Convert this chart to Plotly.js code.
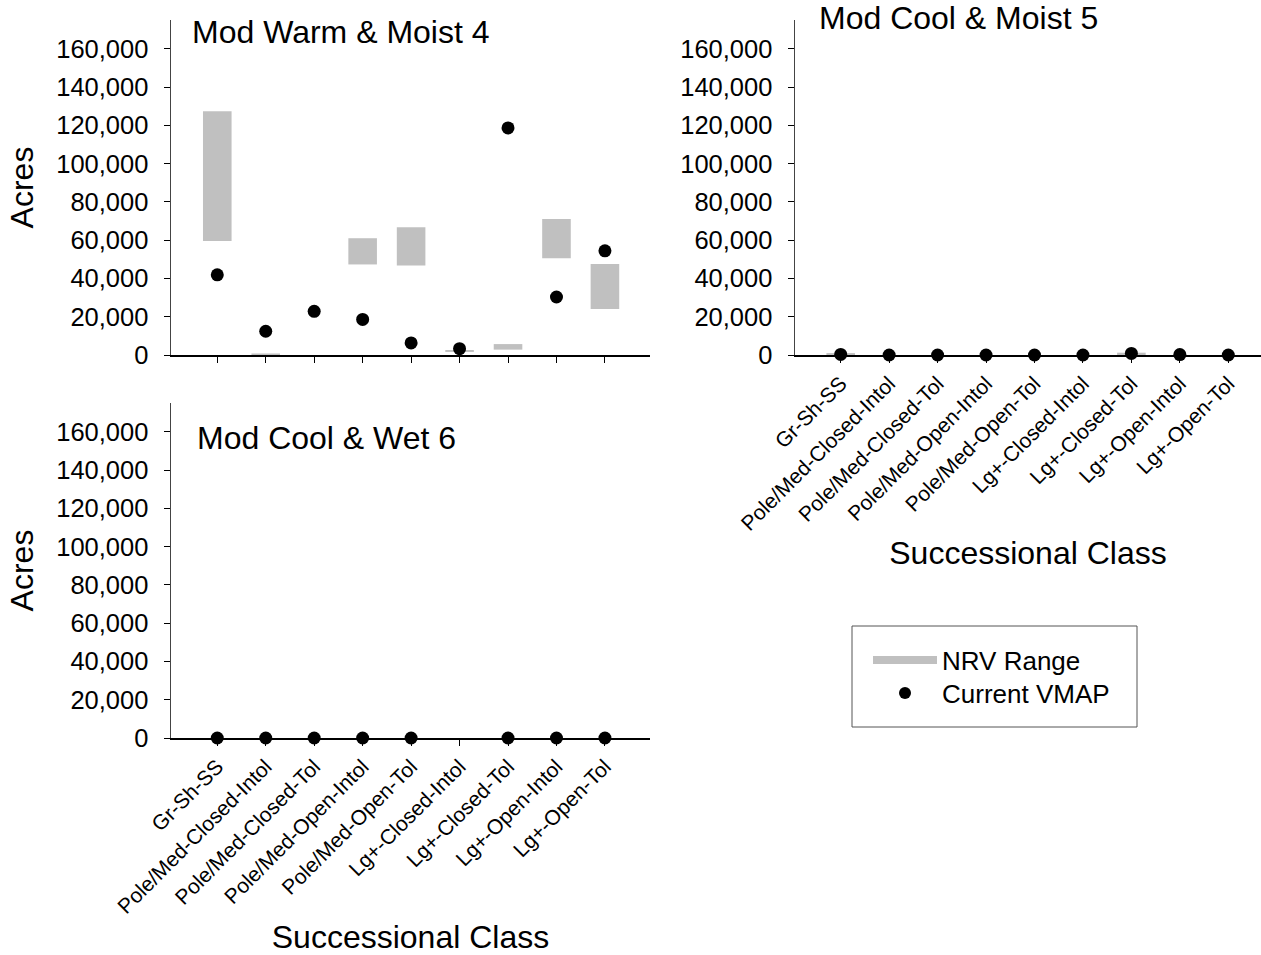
<!DOCTYPE html>
<html><head><meta charset="utf-8">
<script src="https://cdn.plot.ly/plotly-3.0.1.min.js"></script>
<style>html,body{margin:0;padding:0;background:#fff}</style>
</head><body><div id="chart" style="width:1261px;height:955px"></div>
<script>
// ---- data ----
const classes = ['Gr-Sh-SS','Pole/Med-Closed-Intol','Pole/Med-Closed-Tol','Pole/Med-Open-Intol','Pole/Med-Open-Tol','Lg+-Closed-Intol','Lg+-Closed-Tol','Lg+-Open-Intol','Lg+-Open-Tol'];
const panelTitles = ['Mod Warm & Moist 4','Mod Cool & Moist 5','Mod Cool & Wet 6'];
const seriesNames = ['NRV Range','Current VMAP'];
// Mod Warm & Moist 4
const nrvLow4  = [59500, 0,   0, 47300, 46800, 1600, 2800, 50600, 24000];
const nrvHigh4 = [127300, 800, 0, 61000, 66800, 2600, 5700, 71000, 47500];
const vmap4    = [41900, 12400, 22800, 18600, 6300, 3300, 118600, 30300, 54400];
// Mod Cool & Moist 5
const nrvLow5  = [0, 0, 0, 0, 0, 0, 0, 0, 0];
const nrvHigh5 = [1000, 0, 0, 0, 0, 0, 1200, 0, 0];
const vmap5    = [300, 0, 0, 0, 0, 0, 800, 200, 0];
// Mod Cool & Wet 6
const nrvLow6  = [0, 0, 0, 0, 0, 0, 0, 0, 0];
const nrvHigh6 = [0, 0, 0, 0, 0, 0, 0, 0, 0];
const vmap6    = [0, 0, 0, 0, 0, null, 0, 0, 0];

const FONT = 'Liberation Sans, Arial, sans-serif';
const GREY = '#c0c0c0';

function panel(low, high, vmap, xa, ya) {
  return [
    {type:'bar', x:classes, base:low, y:high.map((h,i)=>h-low[i]), xaxis:xa, yaxis:ya,
     width:0.59, marker:{color:GREY, line:{width:0}}, name:seriesNames[0], showlegend:false, hoverinfo:'skip'},
    {type:'scatter', mode:'markers', x:classes, y:vmap, xaxis:xa, yaxis:ya, cliponaxis:false,
     marker:{color:'#000', size:13}, name:seriesNames[1], showlegend:false}
  ];
}

const data = [
  ...panel(nrvLow4, nrvHigh4, vmap4, 'x', 'y'),
  ...panel(nrvLow5, nrvHigh5, vmap5, 'x2', 'y2'),
  ...panel(nrvLow6, nrvHigh6, vmap6, 'x3', 'y3'),
  // legend-only entries (no marks of their own)
  {type:'scatter', mode:'lines', x:[null], y:[null], xaxis:'x', yaxis:'y', name:seriesNames[0], line:{color:GREY, width:8}, showlegend:true, legend:'legend'},
  {type:'scatter', mode:'markers', x:[null], y:[null], xaxis:'x', yaxis:'y', name:seriesNames[1], marker:{color:'#000', size:12}, showlegend:true, legend:'legend2'}
];

const W = 1261, H = 955;
const px = v => v / W, py = v => 1 - v / H;

function xAxis(domain, range, anchor, showLabels, title, standoff) {
  return {
    type:'category', domain:domain, range:range, anchor:anchor, showgrid:false, zeroline:false,
    showline:true, linecolor:'#000', linewidth:2,
    ticks:'outside', ticklen:6, tickcolor:'#000', tickwidth:1,
    showticklabels:showLabels, tickangle:-45, tickfont:{family:FONT, size:21, color:'#000'},
    title: title ? {text:title, font:{family:FONT, size:32, color:'#000'}, standoff:standoff} : {text:''},
    fixedrange:true
  };
}
function yAxis(domain, anchor, title) {
  return {
    domain:domain, range:[0,175000], anchor:anchor, showgrid:false, zeroline:false,
    showline:true, linecolor:'#444', linewidth:1.5,
    ticks:'outside', ticklen:6, tickcolor:'#000', tickwidth:1,
    tick0:0, dtick:20000, tickformat:',d', ticklabelstandoff:10,
    tickfont:{family:FONT, size:25.5, color:'#000'},
    title: title ? {text:title, font:{family:FONT, size:32, color:'#000'}, standoff:13} : {text:''},
    fixedrange:true
  };
}

const LEG_FONT = {family:FONT, size:26, color:'#000'};
const legendBase = {xanchor:'left', yanchor:'top', borderwidth:0, bgcolor:'rgba(0,0,0,0)',
                    font:LEG_FONT, itemwidth:64, tracegroupgap:0};

const layout = {
  width:W, height:H, autosize:false,
  margin:{l:0, r:0, t:0, b:0},
  paper_bgcolor:'#fff', plot_bgcolor:'rgba(0,0,0,0)',
  font:{family:FONT, color:'#000'},
  barmode:'overlay',
  xaxis:  xAxis([px(171), px(650)], [-0.955, 8.93], 'y', false, null, 0),
  yaxis:  yAxis([py(355), py(20)], 'x', 'Acres'),
  xaxis2: xAxis([px(795), px(1261)], [-0.943, 8.675], 'y2', true, 'Successional Class', 7),
  yaxis2: yAxis([py(355), py(20)], 'x2', null),
  xaxis3: xAxis([px(171), px(650)], [-0.955, 8.93], 'y3', true, 'Successional Class', 14),
  yaxis3: yAxis([py(738), py(403)], 'x3', 'Acres'),
  showlegend:true,
  legend:  Object.assign({x:px(868), y:py(636.5)}, legendBase),
  legend2: Object.assign({x:px(868), y:py(669.5)}, legendBase),
  shapes:[
    {type:'rect', xref:'paper', yref:'paper', x0:px(852), x1:px(1137), y0:py(727), y1:py(626),
     line:{color:'#555', width:1}, fillcolor:'rgba(0,0,0,0)', layer:'below'}
  ],
  annotations:[
    {text:panelTitles[0], xref:'paper', yref:'paper', x:px(190), y:py(32), xanchor:'left', yanchor:'middle', showarrow:false, font:{family:FONT, size:32, color:'#000'}},
    {text:panelTitles[1], xref:'paper', yref:'paper', x:px(817), y:py(18), xanchor:'left', yanchor:'middle', showarrow:false, font:{family:FONT, size:32, color:'#000'}},
    {text:panelTitles[2], xref:'paper', yref:'paper', x:px(195), y:py(438), xanchor:'left', yanchor:'middle', showarrow:false, font:{family:FONT, size:32, color:'#000'}}
  ]
};

Plotly.newPlot('chart', data, layout, {displayModeBar:false, staticPlot:true});
</script>
</body></html>
